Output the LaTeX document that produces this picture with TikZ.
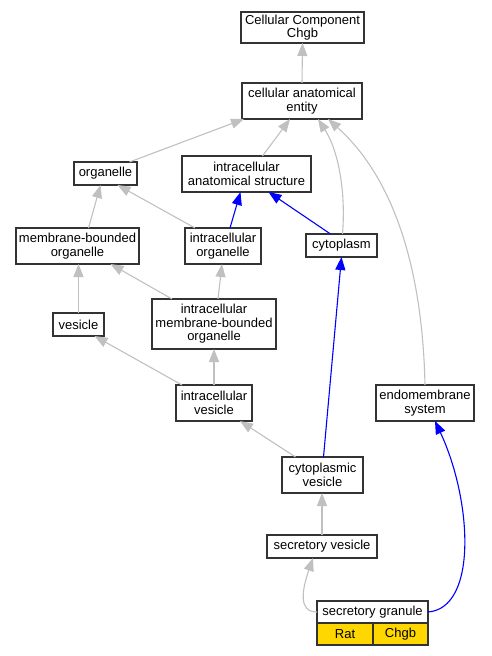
\documentclass[tikz,border=0pt]{standalone}
\usepackage{fontspec}
\setmainfont{Liberation Sans}
\usetikzlibrary{arrows.meta,positioning,calc}
\definecolor{boxline}{HTML}{333333}
\definecolor{isagrey}{HTML}{C0C0C0}
\definecolor{partblue}{HTML}{0000FF}
\definecolor{taxongold}{HTML}{FFD700}
\tikzset{
  term/.style={draw=boxline,fill=white,line width=1.2pt,inner sep=0pt,outer sep=0pt,align=center,
    font=\fontsize{13}{13.4}\selectfont},
  taxon/.style={term,fill=taxongold,minimum height=22pt},
  isa/.style={draw=isagrey,line width=1.1pt,-{Triangle[length=13pt,width=10pt]}},
  partof/.style={draw=partblue,line width=1.1pt,-{Triangle[length=13pt,width=10pt]}},
}

\begin{document}
\begin{tikzpicture}[x=1pt,y=-1pt]
  \useasboundingbox (0,0) rectangle (491,656);
  % terms
  \node[term,minimum width=123pt,minimum height=31pt] (cc) at (302.5,27.5) {Cellular Component\\Chgb};
  \node[term,minimum width=120pt,minimum height=36pt] (cae) at (302,101) {cellular anatomical\\entity};
  \node[term,minimum width=63pt,minimum height=23pt] (org) at (105.5,173.5) {organelle};
  \node[term,minimum width=129pt,minimum height=36pt] (ias) at (246.5,174) {intracellular\\anatomical structure};
  \node[term,minimum width=123pt,minimum height=36pt] (mbo) at (77.5,246) {membrane-bounded\\organelle};
  \node[term,minimum width=76pt,minimum height=36pt] (io) at (223,246) {intracellular\\organelle};
  \node[term,minimum width=71pt,minimum height=23pt] (cyto) at (341.5,245.5) {cytoplasm};
  \node[term,minimum width=51pt,minimum height=23pt] (ves) at (78.5,324.5) {vesicle};
  \node[term,minimum width=124pt,minimum height=50pt] (imbo) at (214,324) {intracellular\\membrane-bounded\\organelle};
  \node[term,minimum width=76pt,minimum height=36pt] (iv) at (214,403) {intracellular\\vesicle};
  \node[term,minimum width=98pt,minimum height=36pt] (es) at (425,403) {endomembrane\\system};
  \node[term,minimum width=81pt,minimum height=36pt] (cv) at (322.5,475) {cytoplasmic\\vesicle};
  \node[term,minimum width=110pt,minimum height=23pt] (sv) at (322,546.5) {secretory vesicle};
  \node[term,minimum width=111pt,minimum height=22pt] (sg) at (372.5,612) {secretory granule};
  \node[taxon,anchor=north west,minimum width=56pt] (rat) at (sg.south west) {Rat};
  \node[taxon,anchor=north west,minimum width=55pt] (gene) at (rat.north east) {Chgb};
  % is_a
  \draw[isa] (cae.north) -- (cc.south);
  \draw[isa] ([xshift=24pt]org.north) -- ([xshift=-58pt]cae.south);
  \draw[isa] ([xshift=16pt]ias.north) -- ([xshift=-12pt]cae.south);
  \draw[isa] ([xshift=1pt]cyto.north) .. controls (346,190) and (338,150) .. ([xshift=16pt]cae.south);
  \draw[isa] (es.north) .. controls (422,250) and (385,170) .. ([xshift=26pt]cae.south);
  \draw[isa] ([xshift=11pt]mbo.north) -- ([xshift=-5pt]org.south);
  \draw[isa] ([xshift=-28pt]io.north) -- ([xshift=12pt]org.south);
  \draw[isa] (ves.north) -- (ves.north |- mbo.south);
  \draw[isa] ([xshift=-42pt]imbo.north) -- ([xshift=33pt]mbo.south);
  \draw[isa] ([xshift=4pt]imbo.north) -- ([xshift=-1pt]io.south);
  \draw[isa] ([xshift=-32pt]iv.north) -- ([xshift=16pt]ves.south);
  \draw[isa] (iv.north) -- (imbo.south);
  \draw[isa] ([xshift=-27pt]cv.north) -- ([xshift=26pt]iv.south);
  \draw[isa] (sv.north) -- (sv.north |- cv.south);
  \draw[isa] (sg.west) .. controls (298,612) and (302,590) .. ([xshift=-9pt]sv.south);
  % part_of
  \draw[partof] ([xshift=7pt]io.north) -- ([xshift=-6pt]ias.south);
  \draw[partof] ([xshift=-11pt]cyto.north) -- ([xshift=22pt]ias.south);
  \draw[partof] ([xshift=1pt]cv.north) -- (cyto.south);
  \draw[partof] (sg.east) .. controls (478,608) and (472,500) .. ([xshift=10pt]es.south);
\end{tikzpicture}
\end{document}
